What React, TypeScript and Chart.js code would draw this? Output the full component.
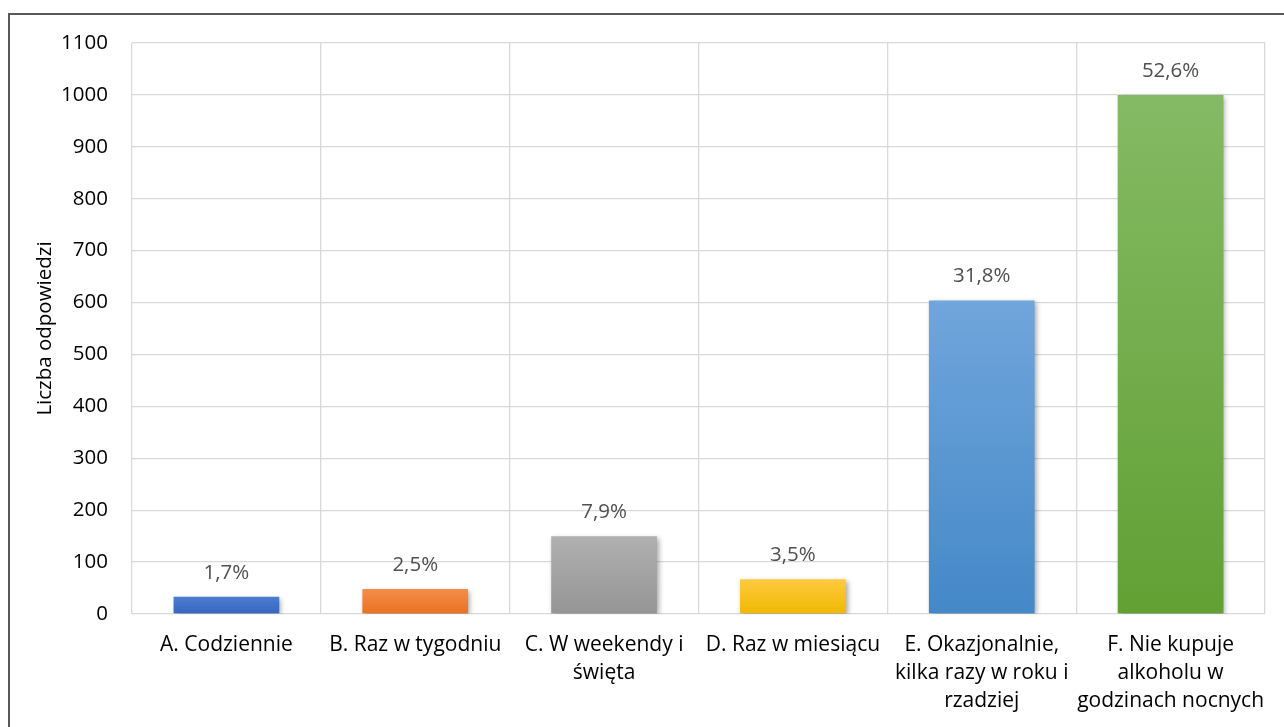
import React, { useEffect, useRef } from "react";
import { Chart, registerables } from "chart.js";

Chart.register(...registerables);

const categories: string[][] = [
  ["A. Codziennie"],
  ["B. Raz w tygodniu"],
  ["C. W weekendy i", "święta"],
  ["D. Raz w miesiącu"],
  ["E. Okazjonalnie,", "kilka razy w roku i", "rzadziej"],
  ["F. Nie kupuje", "alkoholu w", "godzinach nocnych"],
];
const counts: number[] = [33, 48, 150, 67, 604, 1000];
const percentLabels: string[] = ["1,7%", "2,5%", "7,9%", "3,5%", "31,8%", "52,6%"];
const gradientTop: string[] = ["#4b7dd0", "#f38e4c", "#b0b0b0", "#ffca40", "#70a6db", "#84ba64"];
const gradientBottom: string[] = ["#3665bf", "#eb7020", "#959595", "#f0b800", "#4488c8", "#62a034"];
const yTitle = "Liczba odpowiedzi";

const FONT = "'Open Sans', 'DejaVu Sans', sans-serif";

const shadowPlugin = {
  id: "barShadow",
  beforeDatasetsDraw(chart: any) {
    const ctx = chart.ctx;
    ctx.save();
    ctx.shadowColor = "rgba(0,0,0,0.35)";
    ctx.shadowBlur = 5;
    ctx.shadowOffsetX = 2;
    ctx.shadowOffsetY = 2;
  },
  afterDatasetsDraw(chart: any) {
    chart.ctx.restore();
    const ctx = chart.ctx;
    const meta = chart.getDatasetMeta(0);
    ctx.save();
    ctx.font = `20.5px ${FONT}`;
    ctx.fillStyle = "#505050";
    ctx.textAlign = "center";
    ctx.textBaseline = "middle";
    meta.data.forEach((bar: any, i: number) => {
      ctx.fillText(percentLabels[i], bar.x, bar.y - 24);
    });
    ctx.restore();
  },
};

export default function App() {
  const ref = useRef<HTMLCanvasElement>(null);
  useEffect(() => {
    if (!ref.current) return;
    const chart = new Chart(ref.current, {
      type: "bar",
      data: {
        labels: categories,
        datasets: [
          {
            data: counts,
            backgroundColor: (c: any) => {
              const chart = c.chart;
              const i = c.dataIndex;
              const ys = chart.scales?.y;
              if (!chart.chartArea || !ys || i === undefined) return gradientTop[i ?? 0];
              const top = ys.getPixelForValue(counts[i]);
              const bottom = ys.getPixelForValue(0);
              const g = chart.ctx.createLinearGradient(0, top, 0, bottom);
              g.addColorStop(0, gradientTop[i]);
              g.addColorStop(1, gradientBottom[i]);
              return g;
            },
            borderWidth: 0,
            barPercentage: 0.56,
            categoryPercentage: 1,
          },
        ],
      },
      options: {
        animation: false,
        responsive: false,
        layout: { padding: { top: 28, right: 19, left: 0, bottom: 0 } },
        plugins: { legend: { display: false }, tooltip: { enabled: false } },
        scales: {
          x: {
            offset: true,
            grid: { color: "#d9d9d9", lineWidth: 1.3, drawTicks: false, offset: true },
            border: { display: false },
            ticks: {
              color: "#000000",
              font: { family: FONT, size: 21, lineHeight: 1.33 },
              padding: 17,
              maxRotation: 0,
              autoSkip: false,
            },
            afterFit: (s: any) => {
              s.height = 113;
              s.paddingTop = 0;
              s.paddingBottom = 0;
              s.paddingLeft = 0;
              s.paddingRight = 0;
            },
          },
          y: {
            min: 0,
            max: 1100,
            ticks: {
              stepSize: 100,
              color: "#000000",
              font: { family: FONT, size: 20.5 },
              padding: 24,
              callback: (v: any) => String(v),
            },
            grid: { color: "#d9d9d9", lineWidth: 1.3, drawTicks: false },
            border: { display: false },
            title: {
              display: true,
              text: yTitle,
              color: "#000000",
              font: { family: FONT, size: 20.5, lineHeight: 1.2 },
              padding: { top: 23, bottom: 0 },
            },
            afterFit: (s: any) => {
              s.width = 122;
              s.paddingTop = 0;
              s.paddingBottom = 0;
              s.paddingLeft = 0;
              s.paddingRight = 0;
            },
          },
        },
      },
      plugins: [shadowPlugin],
    });
    return () => chart.destroy();
  }, []);

  return (
    <div
      style={{
        position: "absolute",
        left: 8,
        top: 13,
        width: 1276,
        height: 714,
        boxSizing: "border-box",
        borderTop: "2px solid #595959",
        borderLeft: "2px solid #595959",
        background: "#ffffff",
      }}
    >
      <canvas ref={ref} width={1274} height={712} style={{ display: "block" }} />
    </div>
  );
}
